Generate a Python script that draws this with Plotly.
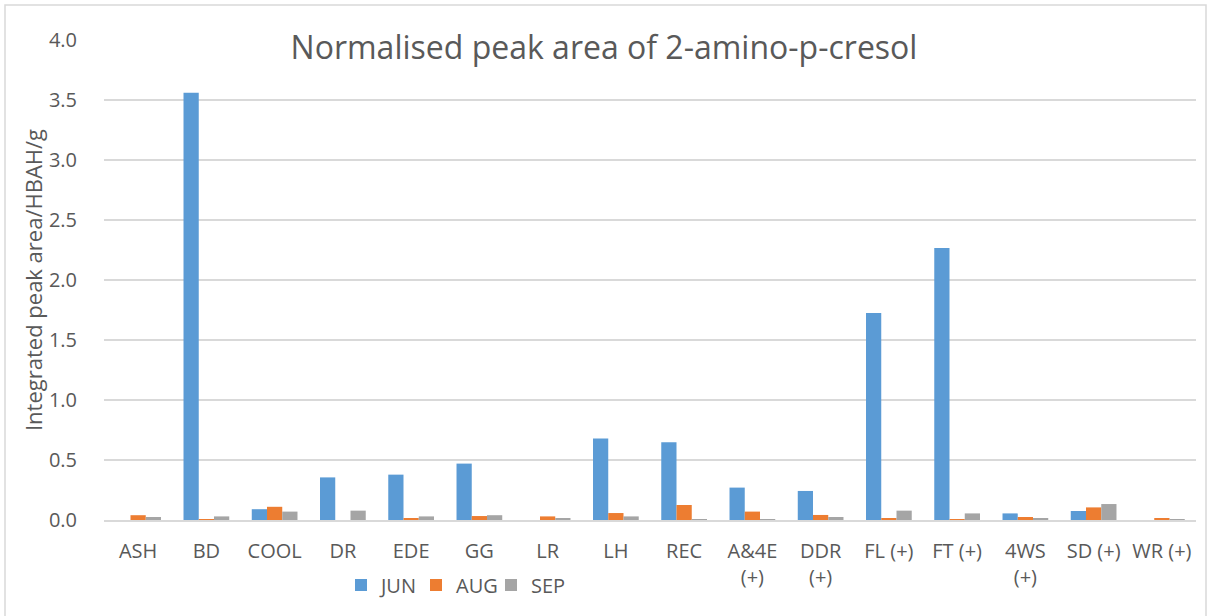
import plotly.graph_objects as go

categories = ["ASH", "BD", "COOL", "DR", "EDE", "GG", "LR", "LH", "REC",
              "A&4E<br>(+)", "DDR<br>(+)", "FL (+)", "FT (+)", "4WS<br>(+)", "SD (+)", "WR (+)"]
jun = [0.0, 3.56, 0.09, 0.355, 0.378, 0.47, 0.0, 0.68, 0.647, 0.27, 0.242, 1.725, 2.267, 0.055, 0.075, 0.0]
aug = [0.04, 0.005, 0.11, 0.0, 0.015, 0.033, 0.03, 0.058, 0.125, 0.07, 0.042, 0.015, 0.005, 0.025, 0.105, 0.01]
sep = [0.025, 0.03, 0.07, 0.078, 0.03, 0.04, 0.015, 0.03, 0.003, 0.003, 0.025, 0.078, 0.055, 0.015, 0.133, 0.005]
y_ticks = [0.0, 0.5, 1.0, 1.5, 2.0, 2.5, 3.0, 3.5, 4.0]

FONT = "Open Sans"
TXT = "#595959"

fig = go.Figure()
for name, vals, col in [("JUN", jun, "#5B9BD5"), ("AUG", aug, "#ED7D31"), ("SEP", sep, "#A5A5A5")]:
    fig.add_trace(go.Bar(x=categories, y=vals, name=name, marker=dict(color=col, line=dict(width=0))))

fig.update_layout(
    width=1208, height=616,
    margin=dict(l=104, r=12, t=40, b=96),
    paper_bgcolor="white", plot_bgcolor="white",
    font=dict(family=FONT, color=TXT, size=20),
    barmode="group", bargap=0.33, bargroupgap=0,
    title=dict(text="Normalised peak area of 2-amino-p-cresol", x=0.5, xanchor="center",
               y=1 - 48 / 616, yanchor="middle", font=dict(size=32, color=TXT, family=FONT)),
    showlegend=True,
    legend=dict(orientation="h", x=(341 - 104) / 1092, xanchor="left", y=(520 - 585) / 480, yanchor="middle",
                font=dict(size=20, color=TXT), itemwidth=30, entrywidth=30, entrywidthmode="pixels",
                traceorder="normal", bgcolor="rgba(0,0,0,0)"),
    xaxis=dict(showgrid=False, showline=True, linecolor="#d9d9d9", linewidth=1.5,
               ticks="outside", ticklen=12, tickcolor="rgba(0,0,0,0)",
               tickfont=dict(size=20, color=TXT), tickangle=0),
    yaxis=dict(range=[0, 4.0], tickvals=y_ticks, ticktext=[f"{v:.1f}" for v in y_ticks],
               showgrid=True, gridcolor="#d9d9d9", gridwidth=1.5, zeroline=False,
               showline=False, ticks="outside", ticklen=22, tickcolor="rgba(0,0,0,0)",
               tickfont=dict(size=20, color=TXT),
               title=dict(text="Integrated peak area/HBAH/g", font=dict(size=22, color=TXT), standoff=0)),
)

fig.add_shape(type="rect", xref="paper", yref="paper",
              x0=(5 - 104) / 1092, x1=(1206 - 104) / 1092, y0=(520 - 640) / 480, y1=(520 - 5) / 480,
              line=dict(color="#d9d9d9", width=1.5), fillcolor="rgba(0,0,0,0)", layer="below")

fig.write_html("out.html", config={"displayModeBar": False},
               post_script="document.body.style.margin='0';document.body.style.overflow='hidden';")
